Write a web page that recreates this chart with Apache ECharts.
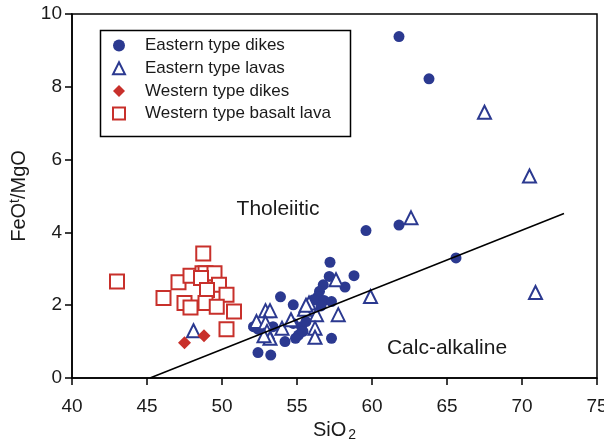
<!DOCTYPE html>
<html>
<head>
<meta charset="utf-8">
<script src="https://cdn.jsdelivr.net/npm/echarts@6/dist/echarts.min.js"></script>
<style>
html,body{margin:0;padding:0;background:#fff;overflow:hidden;}
#chart{width:604px;height:441px;}
</style>
</head>
<body>
<div id="chart"></div>
<script>
// ---- Data (SiO2, FeOt/MgO) ----
const seriesNames = ['Eastern type dikes', 'Eastern type lavas', 'Western type dikes', 'Western type basalt lava'];

const easternDikes = [
  [61.8,9.38],[63.8,8.22],[59.6,4.05],[61.8,4.2],[65.6,3.3],[57.2,3.18],[57.15,2.79],[58.8,2.81],
  [58.2,2.5],[56.75,2.56],[56.5,2.38],[56.4,2.24],[56.8,2.13],[57.3,2.1],[56.6,1.98],[56.1,2.15],
  [53.9,2.23],[54.75,2.01],[52.1,1.41],[53.4,1.41],[52.4,1.34],[54.75,1.5],[55.3,1.41],[55.4,1.28],
  [55.1,1.18],[54.9,1.09],[54.2,1.0],[52.4,0.7],[53.25,0.63],[57.3,1.09],[55.6,1.55]
];
const easternLavas = [
  [67.5,7.3],[70.5,5.55],[62.6,4.4],[70.9,2.35],[59.9,2.24],[57.6,2.7],[57.75,1.74],[56.3,1.74],
  [55.5,1.89],[55.8,2.06],[56.2,1.37],[56.2,1.12],[52.9,1.85],[53.2,1.85],[52.3,1.55],[52.9,1.52],
  [54.0,1.37],[53.0,1.28],[54.6,1.6],[53.2,1.09],[52.8,1.16],[48.1,1.3],[55.6,2.0]
];
const westernDikes = [[47.5,0.97],[48.8,1.16]];
const westernBasalt = [
  [43.0,2.65],[48.75,3.42],[47.1,2.63],[47.9,2.81],[48.7,2.88],[48.9,2.88],[49.5,2.88],[48.6,2.75],
  [49.8,2.56],[49.0,2.42],[46.1,2.2],[50.3,2.29],[47.5,2.06],[47.9,1.94],[48.9,2.06],[49.65,1.96],
  [50.8,1.83],[50.3,1.34]
];
const dividingLine = [[45.2,0],[72.8,4.52]];

const xTicks = {min: 40, max: 75, interval: 5};
const yTicks = {min: 0, max: 10, interval: 2};

const BLUE = '#2b3990';
const RED = '#c8302b';
const FONT = '"Liberation Sans", Arial, Helvetica, sans-serif';

const chart = echarts.init(document.getElementById('chart'), null, {renderer: 'canvas'});
chart.setOption({
  backgroundColor: '#fff',
  animation: false,
  textStyle: {fontFamily: FONT, color: '#000'},
  grid: {left: 72, right: 7, top: 14, bottom: 63, containLabel: false, outerBoundsMode: 'none',
         show: true, borderColor: '#000', borderWidth: 1.5, backgroundColor: 'transparent'},
  xAxis: {
    type: 'value', min: xTicks.min, max: xTicks.max, interval: xTicks.interval,
    axisLine: {show: true, onZero: false, lineStyle: {color: '#000', width: 1.5}},
    axisTick: {show: true, length: 7, lineStyle: {color: '#000', width: 1.5}},
    axisLabel: {color: '#1a1a1a', fontSize: 19, margin: 19, fontFamily: FONT},
    splitLine: {show: false},
    name: '{a|SiO}{s|2}', nameLocation: 'middle', nameGap: 37,
    nameTextStyle: {rich: {a: {fontSize: 20, fontFamily: FONT, color: '#1a1a1a'}, s: {fontSize: 14, fontFamily: FONT, color: '#1a1a1a', padding: [9, 0, 0, 2]}}}
  },
  yAxis: {
    type: 'value', min: yTicks.min, max: yTicks.max, interval: yTicks.interval,
    axisLine: {show: true, onZero: false, lineStyle: {color: '#000', width: 1.5}},
    axisTick: {show: true, length: 7, lineStyle: {color: '#000', width: 1.5}},
    axisLabel: {color: '#1a1a1a', fontSize: 19, margin: 10, fontFamily: FONT},
    splitLine: {show: false},
    name: '{a|FeO}{t|t}{a|/MgO}', nameLocation: 'middle', nameGap: 42,
    nameTextStyle: {rich: {a: {fontSize: 20, fontFamily: FONT, color: '#1a1a1a'}, t: {fontSize: 14, fontFamily: FONT, color: '#1a1a1a', padding: [0, 0, 8, 0]}}}
  },
  legend: {
    orient: 'vertical', left: 112, top: 37, padding: 0,
    itemWidth: 12, itemHeight: 12, itemGap: 5.7,
    data: seriesNames,
    textStyle: {fontSize: 17, fontFamily: FONT, color: '#1a1a1a', lineHeight: 17, padding: [0, 0, 0, 15]}
  },
  graphic: [
    {type: 'rect', left: 98, top: 28, shape: {width: 250, height: 106}, style: {fill: 'none', stroke: '#000', lineWidth: 1.5}, z: 10},
    {type: 'text', x: 278, y: 209, style: {text: 'Tholeiitic', fontSize: 21, fontFamily: FONT, fill: '#1a1a1a', align: 'center', verticalAlign: 'middle'}},
    {type: 'text', x: 447, y: 348, style: {text: 'Calc-alkaline', fontSize: 21, fontFamily: FONT, fill: '#1a1a1a', align: 'center', verticalAlign: 'middle'}}
  ],
  series: [
    {name: seriesNames[0], type: 'scatter', data: easternDikes, symbol: 'circle', symbolSize: 11,
     itemStyle: {color: BLUE, opacity: 1}, z: 2},
    {name: seriesNames[1], type: 'scatter', data: easternLavas, symbol: 'triangle', symbolSize: 13,
     itemStyle: {color: '#fff', borderColor: BLUE, borderWidth: 2, opacity: 1}, z: 3},
    {name: seriesNames[2], type: 'scatter', data: westernDikes, symbol: 'diamond', symbolSize: 13,
     itemStyle: {color: RED, opacity: 1}, z: 4},
    {name: seriesNames[3], type: 'scatter', data: westernBasalt, symbol: 'rect', symbolSize: 14,
     itemStyle: {color: '#fff', borderColor: RED, borderWidth: 2, opacity: 1}, z: 5},
    {name: 'boundary', type: 'line', data: dividingLine, showSymbol: false, symbol: 'none',
     lineStyle: {color: '#000', width: 1.5}, z: 6, silent: true}
  ]
});
</script>
</body>
</html>
